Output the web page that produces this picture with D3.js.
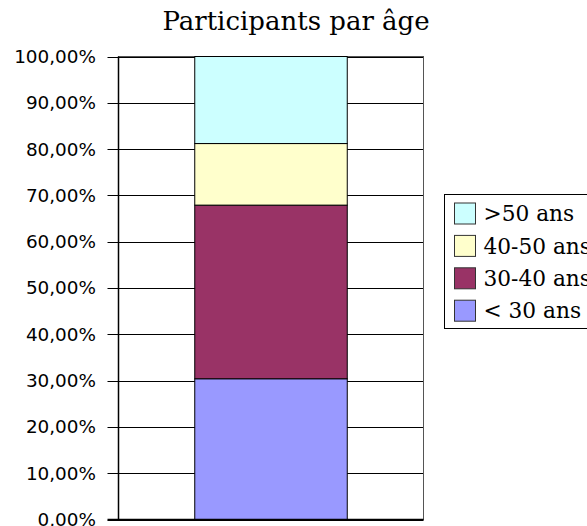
<!DOCTYPE html>
<html>
<head>
<meta charset="utf-8">
<script src="https://cdn.jsdelivr.net/npm/d3@7"></script>
<style>
  body { margin: 0; background: #fff; }
  svg { display: block; }
</style>
</head>
<body>
<svg width="587" height="526"></svg>
<script>
// data (share of participants)
var groups = ["< 30 ans", "30-40 ans", "40-50 ans", ">50 ans"];
var shares = [0.304, 0.375, 0.133, 0.188];
var colors = ["#9999ff", "#993366", "#ffffcc", "#ccffff"];
var yTicks = [0, 0.1, 0.2, 0.3, 0.4, 0.5, 0.6, 0.7, 0.8, 0.9, 1];
var category = ["Participants"];

var svg = d3.select("svg"),
    plot = {left: 118.5, right: 423.5, top: 56.5, bottom: 519.5};

var y = d3.scaleLinear().domain([0, 1]).range([plot.bottom, plot.top]);
var x = d3.scaleBand().domain(category).range([plot.left, plot.right])
    .paddingInner(0).paddingOuter(0.5);

var fmt = function(d) { return d3.format(".2f")(d * 100).replace(".", ",") + "%"; };

// title
svg.append("text")
    .attr("x", 296)
    .attr("y", 30)
    .attr("text-anchor", "middle")
    .style("font-family", "DejaVu Serif")
    .style("font-size", "26px")
    .text("Participants par âge");

// grid lines
svg.append("g").selectAll("line")
  .data(yTicks)
  .enter().append("line")
    .attr("x1", plot.left - 11)
    .attr("x2", plot.right)
    .attr("y1", function(d) { return Math.round(y(d)) + 0.5; })
    .attr("y2", function(d) { return Math.round(y(d)) + 0.5; })
    .attr("stroke", "#000");

// plot frame
svg.append("rect")
    .attr("x", plot.left)
    .attr("y", plot.top)
    .attr("width", plot.right - plot.left)
    .attr("height", plot.bottom - plot.top)
    .attr("fill", "none")
    .attr("stroke", "#555");

// stacked bar
var stackData = [{}];
groups.forEach(function(g, i) { stackData[0][g] = shares[i]; });
var series = d3.stack().keys(groups)(stackData);

svg.append("g").selectAll("rect")
  .data(series)
  .enter().append("rect")
    .attr("x", x(category[0]))
    .attr("width", x.bandwidth())
    .attr("y", function(d) { return y(d[0][1]); })
    .attr("height", function(d) { return y(d[0][0]) - y(d[0][1]); })
    .attr("fill", function(d, i) { return colors[i]; })
    .attr("stroke", "#000");

// axis lines on top
svg.append("line")
    .attr("x1", plot.left).attr("x2", plot.left)
    .attr("y1", plot.top).attr("y2", plot.bottom)
    .attr("stroke", "#000").attr("stroke-width", 1.5);
svg.append("line")
    .attr("x1", plot.left - 11).attr("x2", plot.right)
    .attr("y1", plot.bottom).attr("y2", plot.bottom)
    .attr("stroke", "#000").attr("stroke-width", 1.5);

// tick labels
svg.append("g").selectAll("text")
  .data(yTicks)
  .enter().append("text")
    .attr("x", 96)
    .attr("y", function(d) { return y(d); })
    .attr("dy", "0.35em")
    .attr("text-anchor", "end")
    .style("font-family", "DejaVu Sans")
    .style("font-size", "18.4px")
    .text(fmt);

// legend
svg.append("rect")
    .attr("x", 444.5).attr("y", 194.5)
    .attr("width", 160).attr("height", 134)
    .attr("fill", "#fff").attr("stroke", "#000");

var legend = svg.append("g").selectAll("g")
  .data(groups.slice().reverse())
  .enter().append("g")
    .attr("transform", function(d, i) { return "translate(454.5," + (203 + i * 32.4) + ")"; });

legend.append("rect")
    .attr("width", 21).attr("height", 21)
    .attr("fill", function(d) { return colors[groups.indexOf(d)]; })
    .attr("stroke", "#333");

legend.append("text")
    .attr("x", 29)
    .attr("y", 10.5)
    .attr("dy", "0.35em")
    .style("font-family", "DejaVu Serif")
    .style("font-size", "21.7px")
    .text(function(d) { return d; });
</script>
</body>
</html>
